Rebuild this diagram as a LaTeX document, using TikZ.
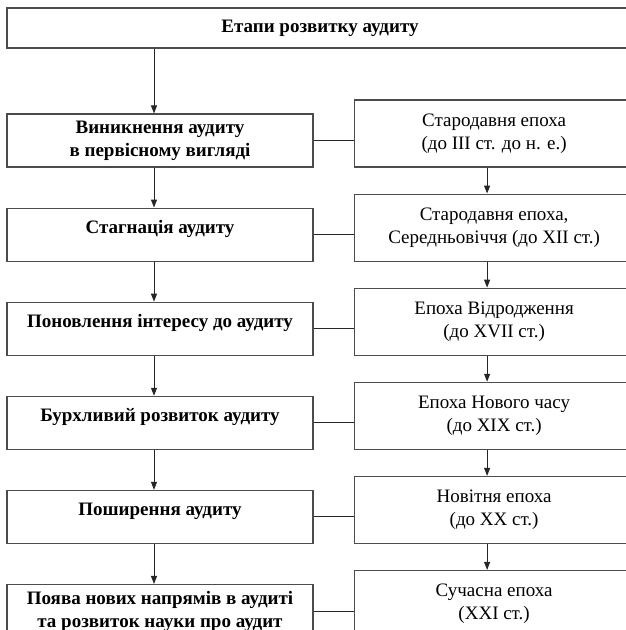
\documentclass[tikz,border=0pt]{standalone}
\usepackage{fontspec}
\setmainfont{Liberation Serif}
\usetikzlibrary{arrows.meta, positioning}

\begin{document}
\begin{tikzpicture}[
    x=1pt, y=-1pt,
    font=\fontsize{19}{23}\selectfont,
    stage/.style={rectangle, draw=black!70, line width=1.1pt,
               minimum width=306pt, minimum height=53pt, inner sep=0pt,
               align=center, font=\fontsize{19}{23}\selectfont\bfseries},
    one/.style={text height=14pt, text depth=17pt},
    epoch/.style={rectangle, draw=black!70, line width=1.1pt,
               minimum width=280pt, minimum height=67pt, inner sep=0pt,
               align=center, anchor=south west},
    arr/.style={-{Triangle[length=8pt, width=6pt]}, line width=1pt, black!85},
    link/.style={line width=1pt, black!85},
    node distance=40pt
  ]
  \useasboundingbox (0,0) rectangle (625,630);

  \node[stage, minimum width=626pt, minimum height=40pt] (title) at (320,28) {Етапи розвитку аудиту};

  % stages
  \node[stage] (s1) at (160,140.5) {Виникнення аудиту\\в первісному вигляді};
  \node[stage, one, below=of s1] (s2) {Стагнація аудиту};
  \node[stage, one, below=of s2] (s3) {Поновлення інтересу до аудиту};
  \node[stage, one, below=of s3] (s4) {Бурхливий розвиток аудиту};
  \node[stage, one, below=of s4] (s5) {Поширення аудиту};
  \node[stage, below=of s5] (s6) {Поява нових напрямів в аудиті\\та розвиток науки про аудит};

  % epochs
  \node[epoch] (e1) at ([xshift=40pt]s1.south east) {Стародавня епоха\\(до III ст. до н. е.)};
  \node[epoch] (e2) at ([xshift=40pt]s2.south east) {Стародавня епоха,\\Середньовіччя (до XII ст.)};
  \node[epoch] (e3) at ([xshift=40pt]s3.south east) {Епоха Відродження\\(до XVII ст.)};
  \node[epoch] (e4) at ([xshift=40pt]s4.south east) {Епоха Нового часу\\(до XIX ст.)};
  \node[epoch] (e5) at ([xshift=40pt]s5.south east) {Новітня епоха\\(до XX ст.)};
  \node[epoch] (e6) at ([xshift=40pt]s6.south east) {Сучасна епоха\\(XXI ст.)};

  \draw[arr] ([xshift=-6pt]s1.north |- title.south) -- ([xshift=-6pt]s1.north);
  \foreach \a/\b in {s1/s2, s2/s3, s3/s4, s4/s5, s5/s6}
    \draw[arr] ([xshift=-6pt]\a.south) -- ([xshift=-6pt]\b.north);
  \foreach \a/\b in {e1/e2, e2/e3, e3/e4, e4/e5, e5/e6}
    \draw[arr] ([xshift=-7pt]\a.south) -- ([xshift=-7pt]\b.north);
  \foreach \i in {1,...,6}
    \draw[link] (s\i.east) -- (s\i.east -| e\i.west);

\end{tikzpicture}
\end{document}
